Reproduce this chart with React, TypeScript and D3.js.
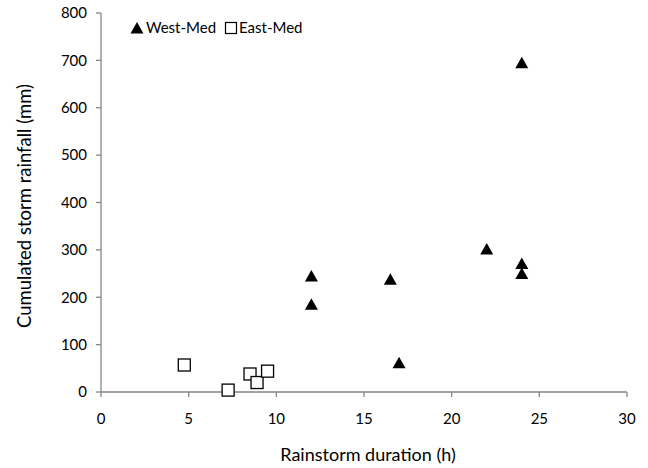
import React from "react";
import * as d3 from "d3";

const westDuration = [12, 12, 16.5, 17, 22, 24, 24, 24];
const westRainfall = [245, 185, 238, 62, 302, 271, 250, 695];
const eastDuration = [4.75, 7.25, 8.5, 8.9, 9.5];
const eastRainfall = [57, 4, 38, 20, 44];
const xTicks = [0, 5, 10, 15, 20, 25, 30];
const yTicks = [0, 100, 200, 300, 400, 500, 600, 700, 800];
const seriesNames = ["West-Med", "East-Med"];

const W = 648;
const H = 468;
const FONT = "Lato, 'Open Sans', sans-serif";
const AXIS = "#868686";

export default function App() {
  const x = d3.scaleLinear().domain([0, 30]).range([101, 627]);
  const y = d3.scaleLinear().domain([0, 800]).range([392, 13]);
  const tri = (cx: number, cy: number) =>
    `M${cx - 6.5},${cy + 5.5}L${cx + 6.5},${cy + 5.5}L${cx},${cy - 6}Z`;
  const west = westDuration.map((d, i) => ({ x: d, y: westRainfall[i] }));
  const east = eastDuration.map((d, i) => ({ x: d, y: eastRainfall[i] }));

  return (
    <svg
      width={W}
      height={H}
      style={{ position: "absolute", left: 0, top: 0, background: "#fff" }}
      fontFamily={FONT}
    >
      <rect width={W} height={H} fill="#fff" />
      {/* y axis */}
      <line x1={x(0)} x2={x(0)} y1={y(800)} y2={y(0)} stroke={AXIS} strokeWidth={1.3} />
      {yTicks.map((t) => (
        <g key={"y" + t}>
          <line x1={x(0) - 5} x2={x(0)} y1={y(t)} y2={y(t)} stroke={AXIS} strokeWidth={1.3} />
          <text x={87} y={y(t)} dy="0.35em" textAnchor="end" fontSize={15} fill="#000">
            {t}
          </text>
        </g>
      ))}
      {/* x axis */}
      <line x1={x(0)} x2={x(30)} y1={y(0)} y2={y(0)} stroke={AXIS} strokeWidth={1.3} />
      {xTicks.map((t) => (
        <g key={"x" + t}>
          <line x1={x(t)} x2={x(t)} y1={y(0)} y2={y(0) + 5} stroke={AXIS} strokeWidth={1.3} />
          <text x={x(t)} y={419} dy="0.35em" textAnchor="middle" fontSize={15} fill="#000">
            {t}
          </text>
        </g>
      ))}
      <text x={368} y={461} textAnchor="middle" fontSize={18} fill="#000">
        Rainstorm duration (h)
      </text>
      <text
        transform={`translate(31,206) rotate(-90)`}
        textAnchor="middle"
        fontSize={18.5}
        fill="#000"
      >
        Cumulated storm rainfall (mm)
      </text>
      {/* points */}
      {west.map((d, i) => (
        <path key={"w" + i} d={tri(x(d.x), y(d.y))} fill="#000" />
      ))}
      {east.map((d, i) => (
        <rect
          key={"e" + i}
          x={x(d.x) - 6}
          y={y(d.y) - 6}
          width={12}
          height={12}
          fill="#fff"
          stroke="#000"
          strokeWidth={1.3}
        />
      ))}
      {/* legend */}
      <path d={tri(137, 28)} fill="#000" />
      <text x={146} y={28} dy="0.35em" fontSize={15} fill="#000">
        {seriesNames[0]}
      </text>
      <rect x={225.5} y={22.5} width={11} height={11} fill="#fff" stroke="#000" strokeWidth={1.2} />
      <text x={239} y={28} dy="0.35em" fontSize={15} fill="#000">
        {seriesNames[1]}
      </text>
    </svg>
  );
}
